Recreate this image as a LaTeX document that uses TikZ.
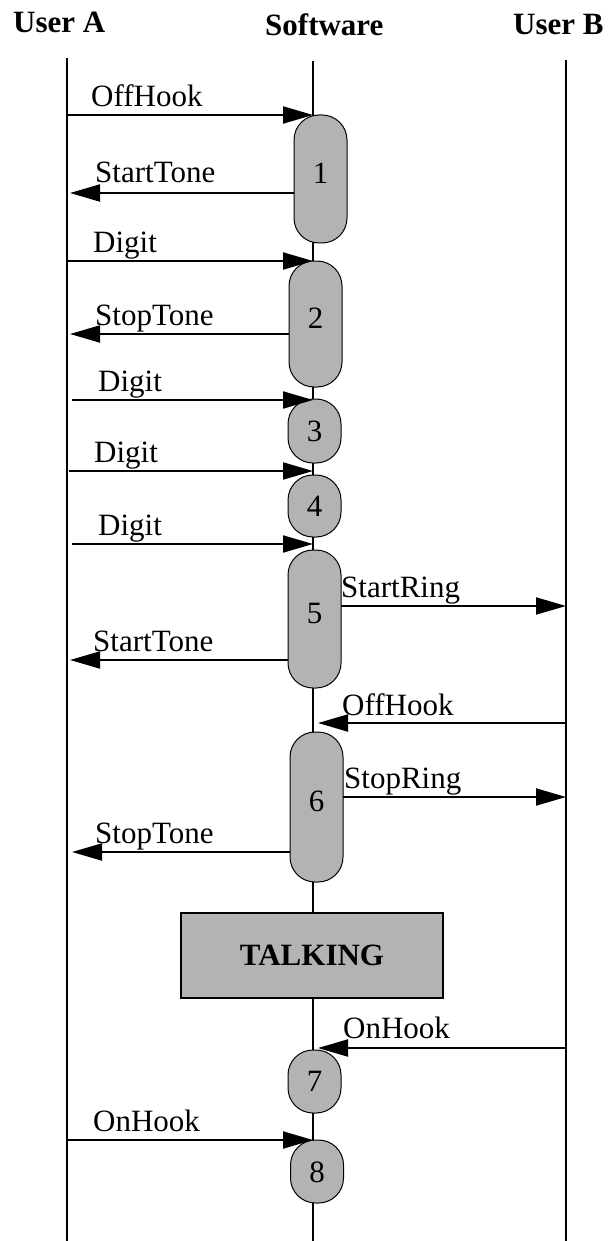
\documentclass[tikz,border=0pt]{standalone}
\usepackage{fontspec}
\setmainfont{Liberation Serif}
\usetikzlibrary{arrows.meta}
\definecolor{boxgray}{RGB}{179,179,179}
\begin{document}
\begin{tikzpicture}[x=1pt,y=-1pt,
  life/.style={line width=2pt},
  msg/.style={line width=2pt,-{Triangle[length=30pt,width=17pt]}},
  stbox/.style={draw,line width=1pt,fill=boxgray,rounded corners=25pt,minimum width=53pt,inner sep=0pt},
  talkbox/.style={draw,line width=1.5pt,fill=boxgray,minimum width=262pt,minimum height=85pt,inner sep=0pt,font=\fontsize{31}{36}\selectfont\bfseries},
  lbl/.style={anchor=base west,inner sep=0pt,font=\fontsize{31}{36}\selectfont},
  head/.style={anchor=base west,inner sep=0pt,font=\fontsize{31}{36}\selectfont\bfseries},
  num/.style={inner sep=0pt,font=\fontsize{31}{36}\selectfont}]
\useasboundingbox (0,0) rectangle (608,1241);
% headers
\node[head] (hA) at (13,33) {User A};
\node[head] (hS) at (265,36) {Software};
\node[head] (hB) at (513,35) {User B};
% lifelines
\coordinate (At) at (67,58);  \coordinate (Ab) at (67,1241);
\coordinate (St) at (313,61); \coordinate (Sb) at (313,1241);
\coordinate (Bt) at (566,60); \coordinate (Bb) at (566,1241);
\draw[life] (At) -- (Ab);
\draw[life] (St) -- (Sb);
\draw[life] (Bt) -- (Bb);
% state boxes
\node[stbox,minimum height=128pt] (b1) at (320.5,179) {};
\node[stbox,minimum height=126pt] (b2) at (315.5,324) {};
\node[stbox,minimum height=64pt] (b3) at (314.5,431) {};
\node[stbox,minimum height=62pt] (b4) at (314.5,506) {};
\node[stbox,minimum height=138pt] (b5) at (314.5,619) {};
\node[stbox,minimum height=150pt] (b6) at (316.5,807) {};
\node[talkbox] (talk) at (312,955.5) {TALKING};
\node[stbox,minimum height=63pt] (b7) at (314.5,1081.5) {};
\node[stbox,minimum height=63pt] (b8) at (317,1171.5) {};
\node[num] (n1) at (320.5,173) {1};
\node[num] (n2) at (315.5,318) {2};
\node[num] (n3) at (314.5,431) {3};
\node[num] (n4) at (314.5,506) {4};
\node[num] (n5) at (314.5,613) {5};
\node[num] (n6) at (316.5,801) {6};
\node[num] (n7) at (314.5,1081.5) {7};
\node[num] (n8) at (317,1172.5) {8};
% message end points
\coordinate (m1a) at (67,115);   \coordinate (m1b) at (313,115);
\coordinate (m2a) at (294,193);  \coordinate (m2b) at (70,193);
\coordinate (m3a) at (67,261);   \coordinate (m3b) at (313,261);
\coordinate (m4a) at (289,334);  \coordinate (m4b) at (70,334);
\coordinate (m5a) at (72,400);   \coordinate (m5b) at (313,400);
\coordinate (m6a) at (69,471);   \coordinate (m6b) at (313,471);
\coordinate (m7a) at (72,544);   \coordinate (m7b) at (313,544);
\coordinate (m8a) at (341,606);  \coordinate (m8b) at (566,606);
\coordinate (m9a) at (288,660);  \coordinate (m9b) at (70,660);
\coordinate (m10a) at (566,723); \coordinate (m10b) at (318,723);
\coordinate (m11a) at (343,797); \coordinate (m11b) at (566,797);
\coordinate (m12a) at (290,852); \coordinate (m12b) at (72,852);
\coordinate (m13a) at (566,1048); \coordinate (m13b) at (318,1048);
\coordinate (m14a) at (67,1140); \coordinate (m14b) at (313,1140);
% messages
\draw[msg] (m1a) -- (m1b);
\draw[msg] (m2a) -- (m2b);
\draw[msg] (m3a) -- (m3b);
\draw[msg] (m4a) -- (m4b);
\draw[msg] (m5a) -- (m5b);
\draw[msg] (m6a) -- (m6b);
\draw[msg] (m7a) -- (m7b);
\draw[msg] (m8a) -- (m8b);
\draw[msg] (m9a) -- (m9b);
\draw[msg] (m10a) -- (m10b);
\draw[msg] (m11a) -- (m11b);
\draw[msg] (m12a) -- (m12b);
\draw[msg] (m13a) -- (m13b);
\draw[msg] (m14a) -- (m14b);
% labels
\node[lbl] (l1) at (91,107) {OffHook};
\node[lbl] (l2) at (95,183) {StartTone};
\node[lbl] (l3) at (93,252) {Digit};
\node[lbl] (l4) at (95,325) {StopTone};
\node[lbl] (l5) at (98,391) {Digit};
\node[lbl] (l6) at (94,462) {Digit};
\node[lbl] (l7) at (98,535) {Digit};
\node[lbl] (l8) at (341,597) {StartRing};
\node[lbl] (l9) at (93,651) {StartTone};
\node[lbl] (l10) at (342,715) {OffHook};
\node[lbl] (l11) at (344,788) {StopRing};
\node[lbl] (l12) at (95,843) {StopTone};
\node[lbl] (l13) at (343,1038) {OnHook};
\node[lbl] (l14) at (93,1131) {OnHook};
\end{tikzpicture}
\end{document}
